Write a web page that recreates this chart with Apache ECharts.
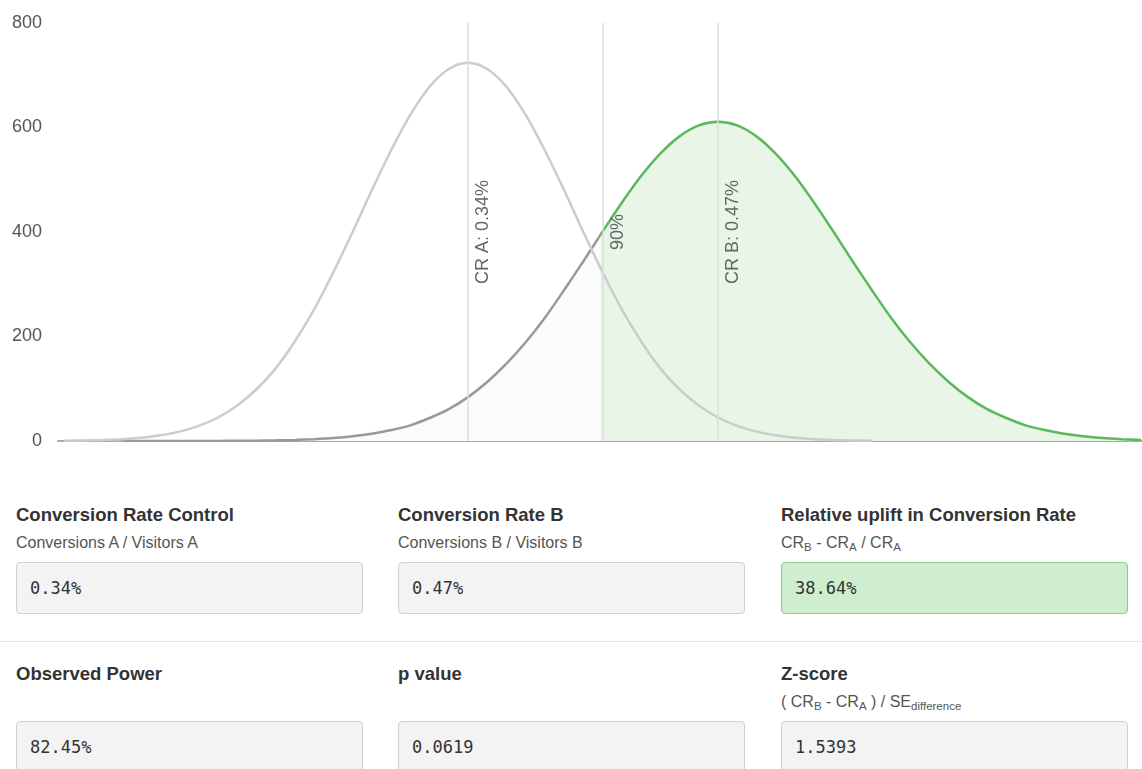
<!DOCTYPE html>
<html>
<head>
<meta charset="utf-8">
<script src="https://cdn.jsdelivr.net/npm/echarts@6/dist/echarts.min.js"></script>
<style>
  html, body { margin: 0; padding: 0; background: #fff; width: 1142px; height: 769px; overflow: hidden; }
  body { position: relative; font-family: "Liberation Sans", Arial, Helvetica, sans-serif; }
  #chart { position: absolute; left: 0; top: 0; width: 1142px; height: 460px; }
  .title { position: absolute; font-size: 18.5px; font-weight: bold; color: #333; line-height: 22px; white-space: nowrap; }
  .sub { position: absolute; font-size: 16px; color: #555; line-height: 18px; white-space: nowrap; }
  .sub sub { font-size: 11.5px; vertical-align: -3px; line-height: 0; }
  .box { position: absolute; width: 332px; height: 50px; border: 1px solid #d0d0d0; border-radius: 4px; background: #f3f3f3;
         font-family: "DejaVu Sans Mono", "Liberation Mono", monospace; font-size: 17px; color: #333; line-height: 50px; padding-left: 13px; box-sizing: content-box; }
  .box.good { background: #cfedcf; border-color: #86cf86; }
  .sep { position: absolute; left: 0; top: 641px; width: 1142px; height: 1px; background: #e6e6e6; }
</style>
</head>
<body>
<div id="chart"></div>

<div class="title" style="left:16px;top:504px">Conversion Rate Control</div>
<div class="sub" style="left:16px;top:534px">Conversions A / Visitors A</div>
<div class="box" style="left:16px;top:562px">0.34%</div>

<div class="title" style="left:398px;top:504px">Conversion Rate B</div>
<div class="sub" style="left:398px;top:534px">Conversions B / Visitors B</div>
<div class="box" style="left:398px;top:562px">0.47%</div>

<div class="title" style="left:781px;top:504px">Relative uplift in Conversion Rate</div>
<div class="sub" style="left:781px;top:534px">CR<sub>B</sub> - CR<sub>A</sub> / CR<sub>A</sub></div>
<div class="box good" style="left:781px;top:562px">38.64%</div>

<div class="sep"></div>

<div class="title" style="left:16px;top:663px">Observed Power</div>
<div class="box" style="left:16px;top:721px">82.45%</div>

<div class="title" style="left:398px;top:663px">p value</div>
<div class="box" style="left:398px;top:721px">0.0619</div>

<div class="title" style="left:781px;top:663px">Z-score</div>
<div class="sub" style="left:781px;top:693px">( CR<sub>B</sub> - CR<sub>A</sub> ) / SE<sub>difference</sub></div>
<div class="box" style="left:781px;top:721px">1.5393</div>

<script>
// Conversion rate (%) positions and density values
const xA = [0.13,0.14,0.15,0.16,0.17,0.18,0.19,0.20,0.21,0.22,0.23,0.24,0.25,0.26,0.27,0.28,0.29,0.30,0.31,0.32,0.33,0.34,
            0.35,0.36,0.37,0.38,0.39,0.40,0.41,0.42,0.43,0.44,0.45,0.46,0.47,0.48,0.49,0.50,0.51,0.52,0.53,0.54,0.55];
const curveA = [0.5,1,2,3.5,6,11,18,29,45,68,99,139,191,252,323,400,480,556,624,678,712,724,
                712,678,624,556,480,400,323,252,191,139,99,68,45,29,18,11,6,3.5,2,1,0.5];

const xB = [0.16,0.17,0.18,0.19,0.20,0.21,0.22,0.23,0.24,0.25,0.26,0.27,0.28,0.29,0.30,0.31,0.32,0.33,0.34,0.35,0.36,0.37,0.38,0.39,0.40,
            0.41,0.42,0.43,0.44,0.45,0.46,0.47,0.48,0.49,0.50,0.51,0.52,0.53,0.54,0.55,0.56,0.57,0.58,0.59,0.60,0.61,0.62,0.63,0.64,0.65,0.66,0.67,0.68,0.69];
const curveB = [0,0,0,0.1,0.1,0.2,0.4,0.7,1.2,2,3.5,5.6,9,14,21,30,44,61,84,113,148,189,236,289,344,
                401,456,507,550,583,604,611,604,583,550,507,456,401,344,289,236,189,148,113,84,61,44,30,21,14,9,5.6,3.5,2];

const crA = 0.34, crB = 0.47;
const threshold = 0.409;       // 90% line position
const thresholdValue = 395;    // curve B height at the 90% line
const yTicks = [0, 200, 400, 600, 800];
const lineLabels = ['CR A: 0.34%', '90%', 'CR B: 0.47%'];

const dataA = xA.map((x, i) => [x, curveA[i]]);
const bLeft = [], bRight = [];
xB.forEach((x, i) => { if (x < threshold) bLeft.push([x, curveB[i]]); else bRight.push([x, curveB[i]]); });
bLeft.push([threshold, thresholdValue]);
bRight.unshift([threshold, thresholdValue]);

const chart = echarts.init(document.getElementById('chart'), null, { renderer: 'canvas' });
chart.setOption({
  animation: false,
  grid: { left: 58, right: 0, top: 23, bottom: 19 },
  xAxis: {
    type: 'value', min: 0.1268, max: 0.6905,
    axisLine: { show: true, onZero: true, lineStyle: { color: '#aaa', width: 2 } },
    axisTick: { show: false }, axisLabel: { show: false }, splitLine: { show: false }
  },
  yAxis: {
    type: 'value', min: yTicks[0], max: yTicks[yTicks.length - 1], interval: 200,
    axisLine: { show: false }, axisTick: { show: false }, splitLine: { show: false },
    axisLabel: { color: '#555', fontSize: 18, margin: 16, fontFamily: 'Liberation Sans, Arial, sans-serif' }
  },
  series: [
    {
      name: 'B below', type: 'line', data: bLeft, smooth: 0.3, showSymbol: false, z: 2,
      lineStyle: { color: '#999', width: 2.5 },
      areaStyle: { color: '#fbfbfb', opacity: 1 }
    },
    {
      name: 'B above', type: 'line', data: bRight, smooth: 0.3, showSymbol: false, z: 2,
      lineStyle: { color: '#5cb85c', width: 2.5 },
      areaStyle: { color: '#e8f5e7', opacity: 1 }
    },
    {
      name: 'A', type: 'line', data: dataA, smooth: 0.3, showSymbol: false, z: 3,
      lineStyle: { color: '#cccccc', width: 2.5 },
      markLine: {
        silent: true, symbol: ['none', 'none'],
        lineStyle: { color: '#dcdcdc', width: 1.5, type: 'solid' },
        label: { position: 'insideMiddleBottom', color: '#666', fontSize: 18, distance: 6,
                 fontFamily: 'Liberation Sans, Arial, sans-serif' },
        data: [
          { xAxis: crA, label: { formatter: lineLabels[0] } },
          { xAxis: threshold, label: { formatter: lineLabels[1] } },
          { xAxis: crB, label: { formatter: lineLabels[2] } }
        ]
      }
    }
  ]
});
</script>
</body>
</html>
